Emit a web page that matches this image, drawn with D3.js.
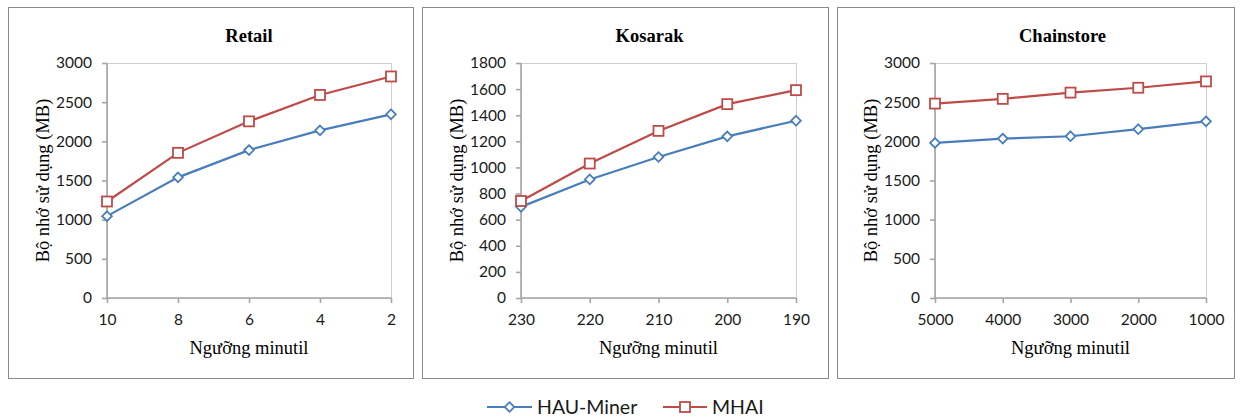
<!DOCTYPE html>
<html><head><meta charset="utf-8">
<script src="https://cdn.jsdelivr.net/npm/d3@7"></script>
<style>body{margin:0;background:#fff}svg{display:block}</style>
</head><body>
<svg id="c" width="1241" height="420"></svg>
<script>
const titles = ["Retail", "Kosarak", "Chainstore"];
const retailX = ["10", "8", "6", "4", "2"];
const kosarakX = ["230", "220", "210", "200", "190"];
const chainX = ["5000", "4000", "3000", "2000", "1000"];
const retailHAU = [1045, 1540, 1888, 2140, 2345];
const retailMHAI = [1232, 1853, 2255, 2592, 2828];
const kosarakHAU = [698, 908, 1080, 1238, 1358];
const kosarakMHAI = [743, 1030, 1280, 1485, 1592];
const chainHAU = [1980, 2035, 2065, 2155, 2255];
const chainMHAI = [2482, 2542, 2622, 2684, 2765];
const retailTicks = [0, 500, 1000, 1500, 2000, 2500, 3000];
const kosarakTicks = [0, 200, 400, 600, 800, 1000, 1200, 1400, 1600, 1800];
const chainTicks = [0, 500, 1000, 1500, 2000, 2500, 3000];
const seriesNames = ["HAU-Miner", "MHAI"];
const xTitle = "Ngưỡng minutil";
const yTitle = "Bộ nhớ sử dụng (MB)";

(function () {
const colors = ["#4A7EBB", "#BE4B48"];
const panels = [
  {cats: retailX, s: [retailHAU, retailMHAI], ticks: retailTicks, box: [8, 413], plot: [107, 391], tdx: 0},
  {cats: kosarakX, s: [kosarakHAU, kosarakMHAI], ticks: kosarakTicks, box: [422, 828], plot: [521, 796], tdx: -9},
  {cats: chainX, s: [chainHAU, chainMHAI], ticks: chainTicks, box: [837, 1234], plot: [935, 1206], tdx: -8}
];
const svg = d3.select("#c");
const pTop = 63, pBottom = 298;
const sans = "Lato, 'Open Sans', sans-serif";
const serif = "'Liberation Serif', 'Times New Roman', serif";

function marker(g, i, x, y) {
  if (i === 0) {
    g.append("path").attr("d", d3.symbol(d3.symbolDiamond2, 60)())
      .attr("transform", `translate(${x},${y})`)
      .attr("fill", "#fff").attr("stroke", colors[0]).attr("stroke-width", 1.8);
  } else {
    g.append("rect").attr("x", x - 5).attr("y", y - 5).attr("width", 10).attr("height", 10)
      .attr("fill", "#fff").attr("stroke", colors[1]).attr("stroke-width", 1.8);
  }
}

panels.forEach((p, pi) => {
  const g = svg.append("g");
  g.append("rect").attr("x", p.box[0] + 0.5).attr("y", 7.5)
    .attr("width", p.box[1] - p.box[0]).attr("height", 371)
    .attr("fill", "#fff").attr("stroke", "#8a8a8a").attr("stroke-width", 1);
  const x = d3.scalePoint().domain(p.cats).range(p.plot).padding(0);
  const y = d3.scaleLinear().domain([p.ticks[0], p.ticks[p.ticks.length - 1]]).range([pBottom, pTop]);
  g.append("rect").attr("x", p.plot[0] + 0.5).attr("y", pTop + 0.5)
    .attr("width", p.plot[1] - p.plot[0]).attr("height", pBottom - pTop)
    .attr("fill", "none").attr("stroke", "#cfcfcf");
  const ya = g.append("g").attr("transform", `translate(${p.plot[0]},0)`)
    .call(d3.axisLeft(y).tickValues(p.ticks).tickSize(5).tickPadding(10).tickFormat(d3.format("d")));
  const xa = g.append("g").attr("transform", `translate(0,${pBottom})`)
    .call(d3.axisBottom(x).tickSize(5).tickPadding(11));
  [ya, xa].forEach(a => {
    a.selectAll("path,line").attr("stroke", "#a6a6a6").attr("stroke-width", 1.6);
    a.selectAll("text").attr("font-family", sans).attr("font-size", 15.5).attr("fill", "#1a1a1a");
  });
  ya.select(".domain").attr("d", `M0,${pTop}V${pBottom}`);
  xa.select(".domain").attr("d", `M${p.plot[0]},0H${p.plot[1]}`);
  const cx = (p.plot[0] + p.plot[1]) / 2;
  g.append("text").attr("x", cx + p.tdx).attr("y", 42).attr("text-anchor", "middle")
    .attr("font-family", serif).attr("font-weight", "bold").attr("font-size", 18.5).text(titles[pi]);
  g.append("text").attr("x", cx).attr("y", 354).attr("text-anchor", "middle")
    .attr("font-family", serif).attr("font-size", 18.5).text(xTitle);
  g.append("text").attr("transform", `translate(${p.plot[0] - 64},${(pTop + pBottom) / 2}) rotate(-90)`)
    .attr("text-anchor", "middle").attr("dy", "0.35em")
    .attr("font-family", serif).attr("font-size", 18.5).text(yTitle);
  p.s.forEach((vals, si) => {
    const line = d3.line().x((d, i) => x(p.cats[i])).y(d => y(d));
    g.append("path").datum(vals).attr("d", line).attr("fill", "none")
      .attr("stroke", colors[si]).attr("stroke-width", 2.2);
    vals.forEach((v, i) => marker(g, si, x(p.cats[i]), y(v)));
  });
});

const lg = svg.append("g");
const legPos = [[487, 532], [663, 707]];
seriesNames.forEach((n, i) => {
  const [a, b] = legPos[i];
  lg.append("line").attr("x1", a).attr("x2", b).attr("y1", 407).attr("y2", 407)
    .attr("stroke", colors[i]).attr("stroke-width", 2.2);
  marker(lg, i, (a + b) / 2, 407);
  lg.append("text").attr("x", b + 5).attr("y", 407).attr("dy", "0.35em")
    .attr("font-family", sans).attr("font-size", 19.5).attr("fill", "#1a1a1a").text(n);
});
})();
</script>
</body></html>
